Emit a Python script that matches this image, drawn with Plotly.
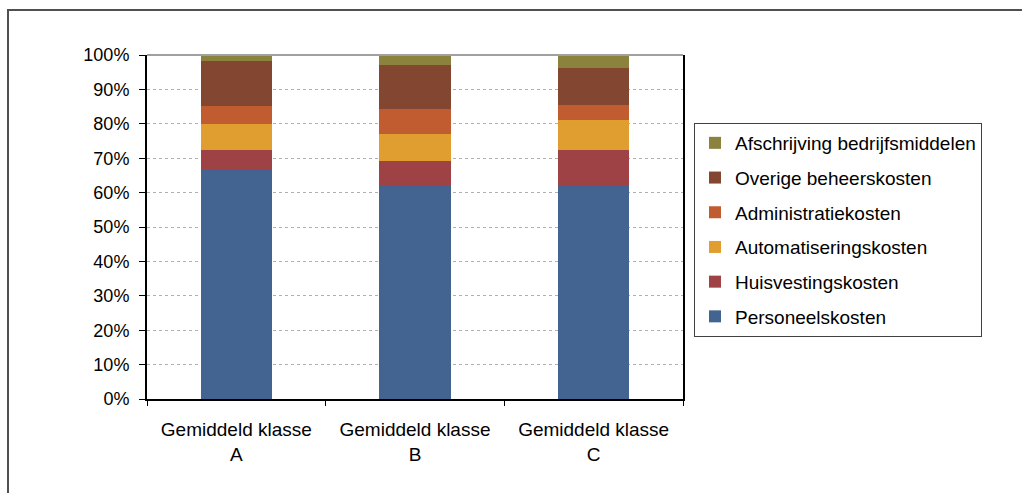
import plotly.graph_objects as go

categories = ["Gemiddeld klasse<br>A", "Gemiddeld klasse<br>B", "Gemiddeld klasse<br>C"]
series_names = ["Personeelskosten", "Huisvestingskosten", "Automatiseringskosten",
                "Administratiekosten", "Overige beheerskosten", "Afschrijving bedrijfsmiddelen"]
personeel = [66.6, 62.0, 62.0]
huisvesting = [5.8, 7.2, 10.4]
automatisering = [7.5, 7.8, 8.7]
administratie = [5.3, 7.4, 4.4]
overige = [13.1, 12.8, 10.7]
afschrijving = [1.7, 2.8, 3.8]
values = [personeel, huisvesting, automatisering, administratie, overige, afschrijving]
colors = ["#436490", "#9E4246", "#E09E31", "#C15C30", "#834631", "#8B823E"]
y_ticks = [0, 10, 20, 30, 40, 50, 60, 70, 80, 90, 100]
y_labels = [f"{t}%" for t in y_ticks]

W, H = 1022, 493
L, R, T, B = 147, 683, 55, 399

fig = go.Figure()
n = len(series_names)
for i, (name, vals, col) in enumerate(zip(series_names, values, colors)):
    fig.add_trace(go.Bar(x=categories, y=vals, name=name, marker_color=col,
                         marker_line_width=0, width=0.4, legendgroup=name,
                         legendrank=n - i))

def px_x(p):
    return (p - L) / (R - L)

def px_y(p):
    return (B - p) / (B - T)

fam = "Liberation Sans, Arial, sans-serif"
font = dict(family=fam, size=18, color="#000000")

fig.update_layout(
    width=W, height=H,
    margin=dict(l=L, r=W - R, t=T, b=H - B, pad=0),
    barmode="stack",
    plot_bgcolor="white", paper_bgcolor="white",
    font=font,
    showlegend=True,
    legend=dict(
        x=px_x(694), y=px_y(123), xanchor="left", yanchor="top",
        traceorder="grouped", tracegroupgap=7,
        bordercolor="#404040", borderwidth=1, bgcolor="white",
        font=dict(family=fam, size=19, color="#000000"),
        itemwidth=30,
    ),
    xaxis=dict(
        showline=True, linecolor="black", linewidth=2,
        ticks="outside", tickson="boundaries", ticklen=5, tickcolor="black",
        showgrid=False, tickfont=dict(family=fam, size=19, color="#000000"),
        ticklabelstandoff=12,
    ),
    yaxis=dict(
        range=[0, 100], tickvals=y_ticks, ticktext=y_labels,
        showline=True, linecolor="black", linewidth=2, mirror=True,
        ticks="outside", ticklen=6, tickcolor="black",
        showgrid=True, gridcolor="#b0b0b0", griddash="dot", gridwidth=1,
        zeroline=False, tickfont=font, ticklabelstandoff=6,
    ),
    shapes=[
        dict(type="line", xref="paper", yref="paper", x0=0, x1=1, y0=1, y1=1,
             line=dict(color="#a0a0a0", width=2)),
        dict(type="rect", xref="paper", yref="paper",
             x0=px_x(8), x1=px_x(1040), y0=px_y(510), y1=px_y(10),
             line=dict(color="#505050", width=2), fillcolor="rgba(0,0,0,0)", layer="below"),
    ],
)

fig.write_html("out.html")
